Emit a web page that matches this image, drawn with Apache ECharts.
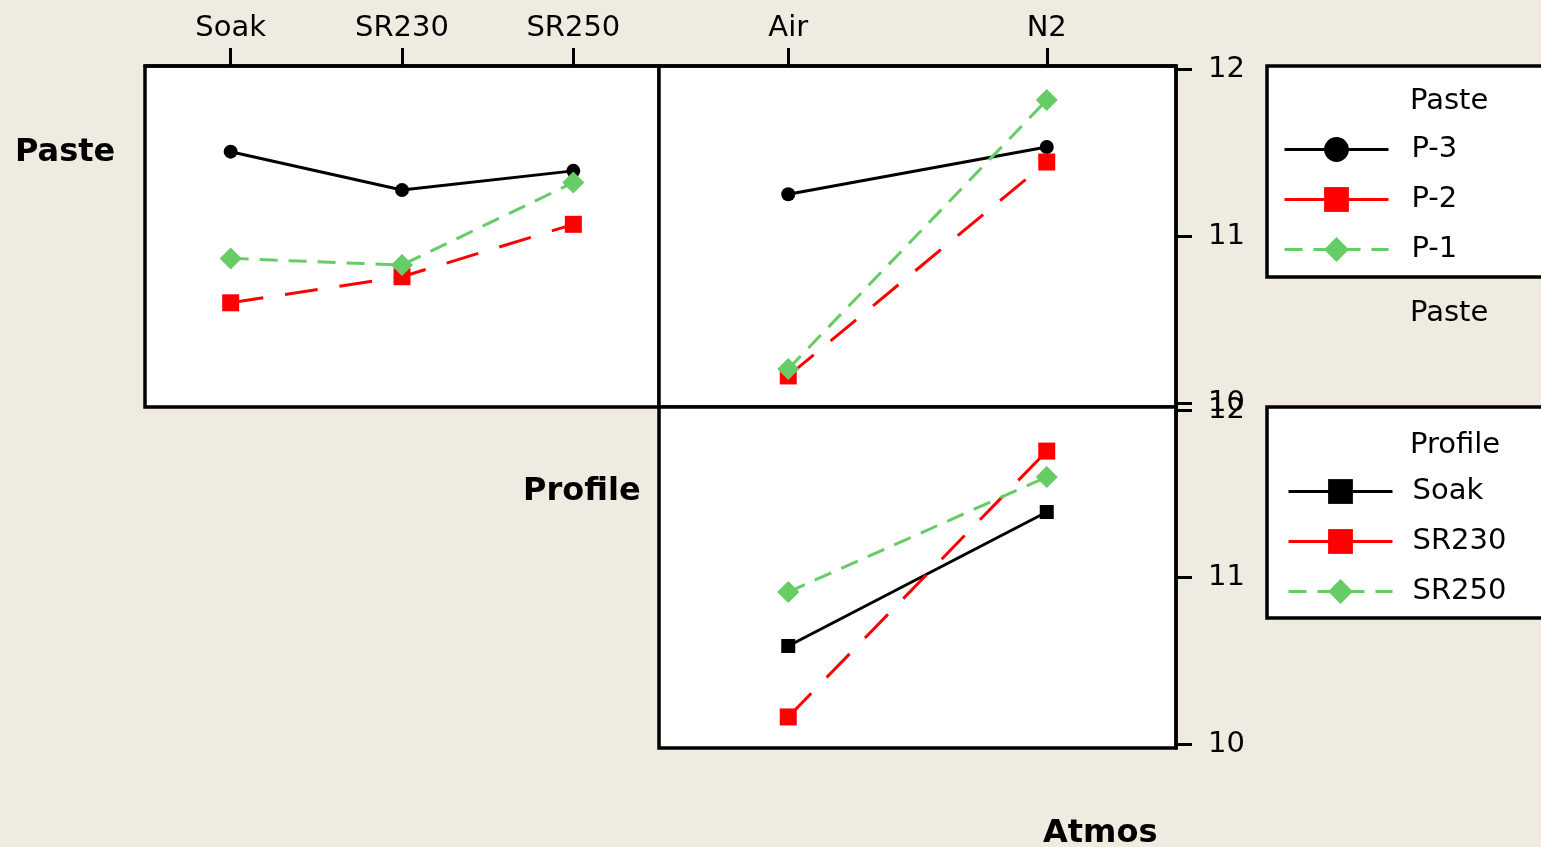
<!DOCTYPE html>
<html>
<head>
<meta charset="utf-8">
<title>Interaction Plot</title>
<script src="https://cdn.jsdelivr.net/npm/echarts@6/dist/echarts.min.js"></script>
<style>
  html, body { margin: 0; padding: 0; background: #EFEBE0; }
  #chart { width: 1541px; height: 847px; }
</style>
</head>
<body>
<div id="chart"></div>
<script>
// Factor levels
const profileLevels = ['Soak', 'SR230', 'SR250'];
const atmosLevels = ['Air', 'N2'];
const pasteLevels = ['P-3', 'P-2', 'P-1'];

// Paste x Profile means
const p3ByProfile = [11.505, 11.275, 11.39];
const p2ByProfile = [10.60, 10.756, 11.07];
const p1ByProfile = [10.866, 10.826, 11.32];

// Paste x Atmos means
const p3ByAtmos = [11.25, 11.533];
const p2ByAtmos = [10.162, 11.443];
const p1ByAtmos = [10.204, 11.814];

// Profile x Atmos means
const soakByAtmos = [10.587, 11.389];
const sr230ByAtmos = [10.162, 11.754];
const sr250ByAtmos = [10.91, 11.599];

// Response axis tick values
const yTicks = [10, 11, 12];

const FONT = 'DejaVu Sans';
const GREEN = '#66CC66';

// Visual style per level (first, second, third level of the trace factor)
const looks = {
  'P-3':   { color: '#000000', symbol: 'circle',  size: 14, dash: 'solid',  keyDash: 'solid' },
  'P-2':   { color: '#FF0000', symbol: 'rect',    size: 17, dash: [33, 22], keyDash: 'solid' },
  'P-1':   { color: GREEN,     symbol: 'diamond', size: 22, dash: [18, 11], keyDash: [18, 11] },
  'Soak':  { color: '#000000', symbol: 'rect',    size: 14, dash: 'solid',  keyDash: 'solid' },
  'SR230': { color: '#FF0000', symbol: 'rect',    size: 17, dash: [33, 22], keyDash: 'solid' },
  'SR250': { color: GREEN,     symbol: 'diamond', size: 22, dash: [18, 11], keyDash: [18, 11] }
};

function trace(name, values, panel) {
  const lk = looks[name];
  return {
    name: name,
    type: 'line',
    xAxisIndex: panel,
    yAxisIndex: panel,
    data: values,
    symbol: lk.symbol,
    symbolSize: lk.size,
    showSymbol: true,
    animation: false,
    color: lk.color,
    itemStyle: { color: lk.color },
    lineStyle: { color: lk.color, width: 3, type: lk.dash },
    emphasis: { disabled: true }
  };
}

const Y_MIN = 9.976, Y_MAX = 12.018;

function gridBox(left, top, width, height) {
  return {
    left: left, top: top, width: width, height: height,
    show: true, backgroundColor: '#FFFFFF', borderColor: '#000000', borderWidth: 3.5,
    outerBoundsMode: 'none', containLabel: false
  };
}

function topCategoryAxis(grid, cats, visible) {
  return {
    gridIndex: grid, type: 'category', data: cats, position: 'top', boundaryGap: true,
    show: visible,
    axisLine: { show: true, lineStyle: { color: '#000', width: 3.5 } },
    axisTick: { show: true, alignWithLabel: true, inside: false, length: 18, interval: 0,
                lineStyle: { color: '#000', width: 3 } },
    axisLabel: { show: true, interval: 0, fontSize: 29, fontFamily: FONT, color: '#000', margin: 23 },
    splitLine: { show: false }
  };
}

function responseAxis(grid, visible) {
  return {
    gridIndex: grid, type: 'value', position: 'right', min: Y_MIN, max: Y_MAX,
    show: visible,
    axisLine: { show: true, lineStyle: { color: '#000', width: 3.5 } },
    axisTick: { show: true, inside: false, length: 16, customValues: yTicks,
                lineStyle: { color: '#000', width: 3 } },
    axisLabel: { show: true, customValues: yTicks, fontSize: 29, fontFamily: FONT, color: '#000',
                 margin: 32, align: 'left' },
    splitLine: { show: false }
  };
}

function legendBox(top, names, pad, textGap) {
  return {
    orient: 'vertical', left: 1267, top: top,
    data: names.map(function (n) {
      return { name: n, lineStyle: { width: 3, type: looks[n].keyDash } };
    }),
    itemWidth: 104, itemHeight: 31, itemGap: 21,
    padding: pad,
    backgroundColor: '#FFFFFF', borderColor: '#000000', borderWidth: 3.5, borderRadius: 0,
    selectedMode: false,
    lineStyle: { width: 3 },
    textStyle: { fontSize: 29, fontFamily: FONT, color: '#000', padding: [0, 0, 0, textGap] }
  };
}

function label(text, x, y, size, bold) {
  return {
    type: 'text', x: x, y: y, z: 100, silent: true,
    style: { text: text, fill: '#000', font: (bold ? 'bold ' : '') + size + 'px "' + FONT + '"',
             textAlign: 'left', textVerticalAlign: 'middle', verticalAlign: 'middle' }
  };
}

const chart = echarts.init(document.getElementById('chart'), null, { renderer: 'canvas' });

chart.setOption({
  backgroundColor: '#EFEBE0',
  animation: false,
  grid: [
    gridBox(145, 66, 514, 341),   // Paste x Profile
    gridBox(659, 66, 517, 341),   // Paste x Atmos
    gridBox(659, 407, 517, 341)   // Profile x Atmos
  ],
  xAxis: [
    topCategoryAxis(0, profileLevels, true),
    topCategoryAxis(1, atmosLevels, true),
    topCategoryAxis(2, atmosLevels, false)
  ],
  yAxis: [
    responseAxis(0, false),
    responseAxis(1, true),
    responseAxis(2, true)
  ],
  legend: [
    legendBox(66, pasteLevels, [69, 220, 13, 16], 18),
    legendBox(407, profileLevels, [70, 220, 12, 20], 15)
  ],
  series: [
    trace('P-3', p3ByProfile, 0),
    trace('P-2', p2ByProfile, 0),
    trace('P-1', p1ByProfile, 0),
    trace('P-3', p3ByAtmos, 1),
    trace('P-2', p2ByAtmos, 1),
    trace('P-1', p1ByAtmos, 1),
    trace('Soak', soakByAtmos, 2),
    trace('SR230', sr230ByAtmos, 2),
    trace('SR250', sr250ByAtmos, 2)
  ],
  graphic: [
    label('Paste', 15, 153, 32, true),
    label('Profile', 523, 492, 32, true),
    label('Atmos', 1043, 834, 32, true),
    label('Paste', 1410, 101, 29, false),
    label('Paste', 1410, 313, 29, false),
    label('Profile', 1410, 445, 29, false)
  ]
});
</script>
</body>
</html>
